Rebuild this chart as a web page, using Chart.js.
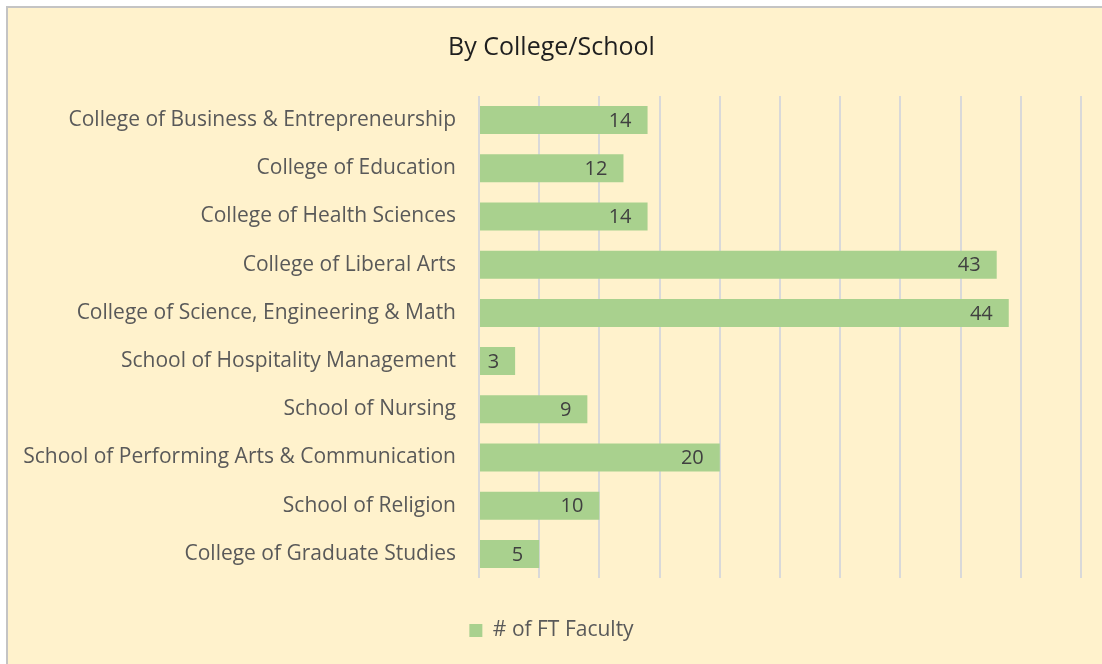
<!DOCTYPE html>
<html>
<head>
<meta charset="utf-8">
<script src="https://cdn.jsdelivr.net/npm/chart.js@4.4.0/dist/chart.umd.min.js"></script>
<style>
  html, body { margin: 0; padding: 0; background: #ffffff; overflow: hidden; }
  #frame {
    position: absolute; left: 6px; top: 6px;
    width: 1102px; height: 658px;
    border-left: 2px solid #C4C4C4; border-top: 2px solid #C4C4C4;
    background: #FFF2CC;
  }
  #wrap { position: relative; width: 1102px; height: 656px; }
</style>
</head>
<body>
<div id="frame"><div id="wrap"><canvas id="c"></canvas></div></div>
<script>
const chartTitle = "By College/School";
const categories = [
  "College of Business & Entrepreneurship",
  "College of Education",
  "College of Health Sciences",
  "College of Liberal Arts",
  "College of Science, Engineering & Math",
  "School of Hospitality Management",
  "School of Nursing",
  "School of Performing Arts & Communication",
  "School of Religion",
  "College of Graduate Studies"
];
const seriesName = "# of FT Faculty";
const facultyCounts = [14, 12, 14, 43, 44, 3, 9, 20, 10, 5];
const axisMin = 0, axisMax = 50, axisStep = 5;

const FONT = "'Open Sans', Lato, sans-serif";

const barLabels = {
  id: 'barLabels',
  afterDatasetsDraw(chart) {
    const ctx = chart.ctx;
    const meta = chart.getDatasetMeta(0);
    ctx.save();
    ctx.font = "20px " + FONT;
    ctx.fillStyle = "#404040";
    ctx.textAlign = "right";
    ctx.textBaseline = "middle";
    meta.data.forEach((bar, i) => {
      ctx.fillText(String(chart.data.datasets[0].data[i]), bar.x - 16, bar.y + 1);
    });
    ctx.restore();
  }
};

new Chart(document.getElementById('c'), {
  type: 'bar',
  data: {
    labels: categories,
    datasets: [{
      label: seriesName,
      data: facultyCounts,
      backgroundColor: '#A9D18E',
      borderWidth: 0,
      categoryPercentage: 0.58,
      barPercentage: 1.0
    }]
  },
  options: {
    indexAxis: 'y',
    responsive: true,
    maintainAspectRatio: false,
    animation: false,
    layout: { padding: { left: 14, right: 29, top: 0, bottom: 13 } },
    scales: {
      x: {
        min: axisMin, max: axisMax,
        ticks: { display: false, stepSize: axisStep },
        grid: { color: '#D9D9D9', lineWidth: 2, drawTicks: false },
        border: { display: false },
        afterFit(scale) { scale.height = 32; }
      },
      y: {
        ticks: { color: '#595959', font: { family: FONT, size: 21 }, padding: 23 },
        grid: { display: false, drawTicks: false },
        border: { display: false },
        afterFit(scale) { scale.width = 457; }
      }
    },
    plugins: {
      title: {
        display: true, text: chartTitle, color: '#1F1F1F',
        font: { family: FONT, size: 25, weight: 'normal' },
        padding: { top: 25, bottom: 33 }
      },
      legend: {
        display: true, position: 'bottom',
        labels: {
          color: '#595959', font: { family: FONT, size: 21 },
          boxWidth: 13, boxHeight: 13, padding: 10
        }
      },
      tooltip: { enabled: false }
    }
  },
  plugins: [barLabels]
});
</script>
</body>
</html>
